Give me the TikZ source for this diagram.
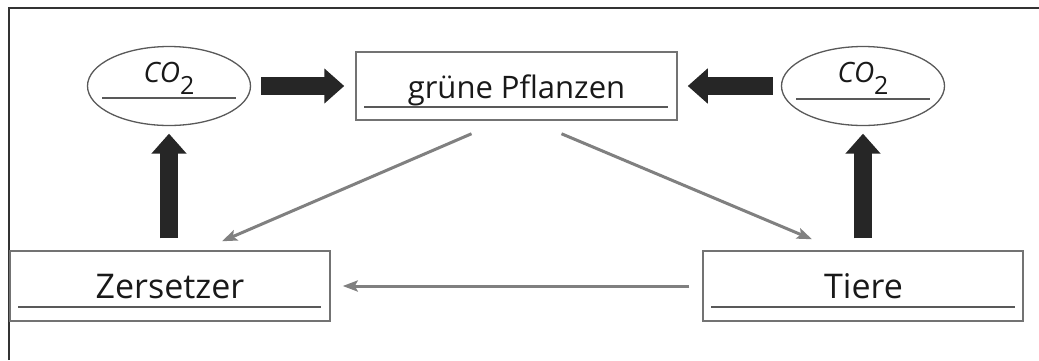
\documentclass[tikz,border=0pt]{standalone}
\usepackage{fontspec}
\setmainfont{Open Sans}
\usetikzlibrary{arrows.meta,shapes.geometric,calc}
\tikzset{
  frameline/.style={draw=black!80, line width=2pt},
  boxst/.style={rectangle, draw=black!55, line width=1.5pt, inner sep=0pt, minimum width=320pt, minimum height=70pt},
  ellst/.style={ellipse, draw=black!65, line width=1.3pt, inner sep=0pt, minimum width=163pt, minimum height=79pt},
  uline/.style={draw=black!65, line width=1.6pt},
  txt/.style={anchor=base, inner sep=0pt, text=black!90},
  fatarrow/.style={draw=black!85, line width=18pt, -{Triangle[length=20pt,width=34pt]}},
  grayarrow/.style={draw=black!50, line width=3pt, -{Stealth[length=15pt,width=11pt,inset=3pt]}}
}
\begin{document}
\begin{tikzpicture}[x=1pt,y=-1pt]
\useasboundingbox (0,0) rectangle (1039,360);
\fill[white] (0,0) rectangle (1039,360);
\draw[frameline] (9,360) -- (9,8) -- (1039,8);

% nodes
\node[ellst] (co2l) at (169,86) {};
\node[ellst] (co2r) at (863,86) {};
\node[boxst, minimum width=321pt, minimum height=68pt] (pf) at (516.5,86) {};
\node[boxst] (zs) at (170,286) {};
\node[boxst] (ti) at (863,286) {};

% texts
\node[txt, font=\fontsize{28}{28}\selectfont] (co2lt) at ($(co2l.center)+(0,-4)$) {\itshape CO\upshape\raisebox{-12pt}{\fontsize{25}{25}\selectfont 2}};
\node[txt, font=\fontsize{28}{28}\selectfont] (co2rt) at ($(co2r.center)+(0,-4)$) {\itshape CO\upshape\raisebox{-12pt}{\fontsize{25}{25}\selectfont 2}};
\node[txt, font=\fontsize{31}{31}\selectfont] (pft) at ($(pf.center)+(0,12)$) {grüne Pflanzen};
\node[txt, font=\fontsize{34}{34}\selectfont] (zst) at ($(zs.center)+(0,12)$) {Zersetzer};
\node[txt, font=\fontsize{34}{34}\selectfont] (tit) at ($(ti.center)+(0.5,12)$) {Tiere};

% underlines
\draw[uline] ($(co2l.center)+(-67,12)$) -- ($(co2l.center)+(67,12)$);
\draw[uline] ($(co2r.center)+(-67,13)$) -- ($(co2r.center)+(67,13)$);
\draw[uline] ([xshift=9pt,yshift=14pt]pf.south west) -- ([xshift=-10pt,yshift=14pt]pf.south east);
\draw[uline] ([xshift=9pt,yshift=15pt]zs.south west) -- ([xshift=-10pt,yshift=15pt]zs.south east);
\draw[uline] ([xshift=9pt,yshift=15pt]ti.south west) -- ([xshift=-9pt,yshift=15pt]ti.south east);

% thick arrows
\draw[fatarrow, shorten <=10pt, shorten >=11pt] (co2l.east) -- (pf.west);
\draw[fatarrow, shorten <=8pt, shorten >=10pt] (co2r.west) -- (pf.east);
\draw[fatarrow, shorten <=12pt, shorten >=7.5pt] (zs.north -| co2l.south) -- (co2l.south);
\draw[fatarrow, shorten <=12pt, shorten >=7.5pt] (ti.north -| co2r.south) -- (co2r.south);

% gray arrows
\draw[grayarrow] ($(pf.south)+(-45,13)$) -- ($(zs.north)+(52,-9)$);
\draw[grayarrow] ($(pf.south)+(45,13)$) -- ($(ti.north)+(-51,-11)$);
\draw[grayarrow, shorten <=13pt, shorten >=12pt] (ti.west) -- (zs.east);
\end{tikzpicture}
\end{document}
